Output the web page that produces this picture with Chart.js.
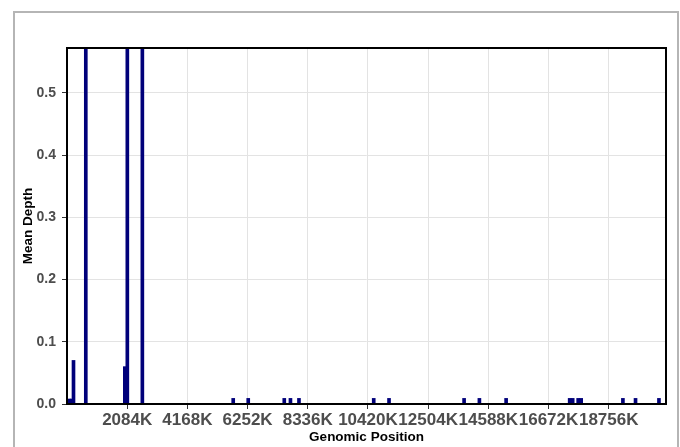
<!DOCTYPE html>
<html>
<head>
<meta charset="utf-8">
<script src="https://cdn.jsdelivr.net/npm/chart.js@4.4.1/dist/chart.umd.min.js"></script>
<style>
html, body { margin: 0; padding: 0; background: #fff; }
#wrap { position: relative; width: 680px; height: 447px; overflow: hidden; }
#frame { position: absolute; left: 13px; top: 11px; width: 662px; height: 480px; border: 2px solid #b5b5b5; }
canvas { position: absolute; left: 0; top: 0; }
</style>
</head>
<body>
<div id="wrap">
    <div id="frame"></div>
    <canvas id="depthChart" width="680" height="447"></canvas>
</div>
<script>
// bin centres in K
const positions = [59, 159, 225, 651, 2003, 2089, 2609, 5755, 6275, 7523, 7737, 8032,
    10620, 11150, 13749, 14279, 15204, 17405, 17509, 17699, 17803, 19248, 19685, 20496];
// mean depth per bin (tall bars run off the top of the panel)
const depths = [0.008, 0.008, 0.07, 0.9, 0.06, 0.9, 0.9, 0.009, 0.009, 0.009, 0.009, 0.009,
    0.009, 0.009, 0.009, 0.009, 0.009, 0.009, 0.009, 0.009, 0.009, 0.009, 0.009, 0.009];
const xTicks = [2084, 4168, 6252, 8336, 10420, 12504, 14588, 16672, 18756];
const yTicks = [0, 0.1, 0.2, 0.3, 0.4, 0.5];

const fontFamily = '"Liberation Sans", Arial, Helvetica, sans-serif';

// panel border drawn over the bars
const panelBorder = {
    id: 'panelBorder',
    afterDatasetsDraw(chart) {
        const { ctx, chartArea: a } = chart;
        ctx.save();
        ctx.strokeStyle = '#000';
        ctx.lineWidth = 2;
        ctx.strokeRect(a.left, a.top, a.right - a.left, a.bottom - a.top);
        ctx.restore();
    }
};

const ctx = document.getElementById('depthChart').getContext('2d');
const depthChart = new Chart(ctx, {
    type: 'bar',
    data: {
        datasets: [{
            label: 'Mean Depth',
            data: positions.map((p, i) => ({ x: p, y: depths[i] })),
            backgroundColor: '#00007a',
            borderWidth: 0,
            barThickness: 3,
            clip: 0
        }]
    },
    options: {
        responsive: false,
        animation: false,
        devicePixelRatio: 1,
        layout: { padding: { left: 0, top: 48, right: 14, bottom: 0 } },
        plugins: {
            legend: { display: false },
            tooltip: { enabled: false }
        },
        scales: {
            x: {
                type: 'linear',
                min: 0,
                max: 20740,
                offset: false,
                afterBuildTicks: (scale) => { scale.ticks = xTicks.map(v => ({ value: v })); },
                afterFit: (scale) => { scale.height = 43; },
                grid: { offset: false, color: '#e3e3e3', lineWidth: 1, drawTicks: true, tickLength: 5, tickColor: '#333' },
                border: { display: false },
                ticks: {
                    autoSkip: false,
                    maxRotation: 0,
                    padding: 1,
                    color: '#4d4d4d',
                    font: { family: fontFamily, size: 17, weight: 'bold' },
                    callback: (v) => v + 'K'
                },
                title: {
                    display: true,
                    text: 'Genomic Position',
                    color: '#000',
                    padding: { top: 0, bottom: 2 },
                    font: { family: fontFamily, size: 13.5, weight: 'bold' }
                }
            },
            y: {
                min: 0,
                max: 0.572,
                afterBuildTicks: (scale) => { scale.ticks = yTicks.map(v => ({ value: v })); },
                afterFit: (scale) => { scale.width = 67; },
                grid: { color: '#e3e3e3', lineWidth: 1, drawTicks: true, tickLength: 5, tickColor: '#333' },
                border: { display: false },
                ticks: {
                    padding: 6,
                    color: '#4d4d4d',
                    font: { family: fontFamily, size: 14, weight: 'bold' },
                    callback: (v) => v.toFixed(1)
                },
                title: {
                    display: true,
                    text: 'Mean Depth',
                    color: '#000',
                    padding: { top: 20, bottom: 0 },
                    font: { family: fontFamily, size: 13.5, weight: 'bold' }
                }
            }
        }
    },
    plugins: [panelBorder]
});
</script>
</body>
</html>
